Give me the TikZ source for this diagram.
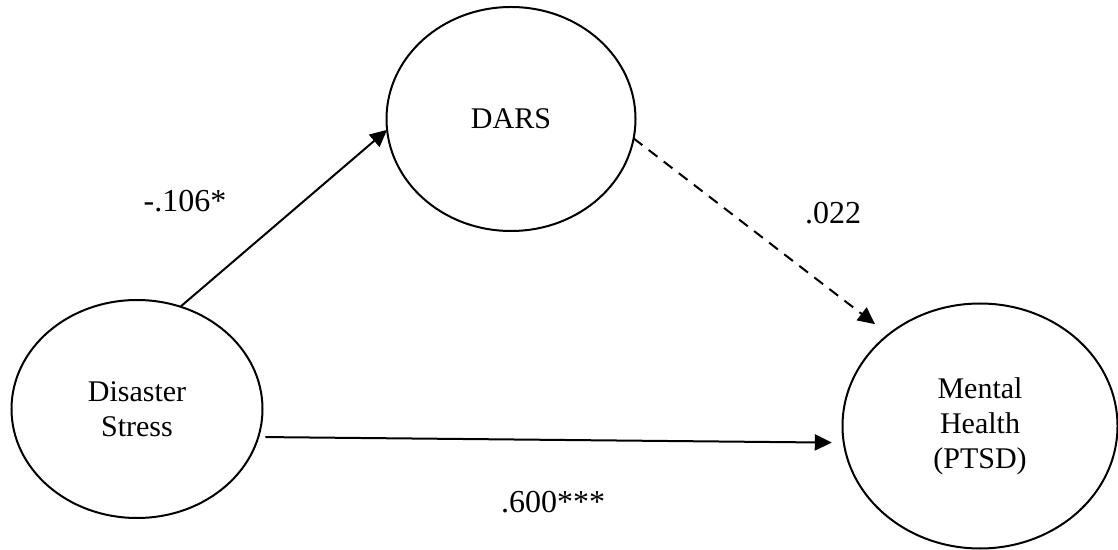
\documentclass[tikz,border=0pt]{standalone}
\usepackage{fontspec}
\setmainfont{Liberation Serif}
\usepackage{tikz}
\usetikzlibrary{positioning,arrows.meta,shapes.geometric}
\definecolor{ink}{HTML}{000000}
\tikzset{latent/.style={draw=ink,ellipse,line width=1pt,inner sep=0pt,outer sep=0pt,
    align=center,font=\fontsize{15}{17.5}\selectfont},
  coef/.style={font=\fontsize{16}{19}\selectfont,text=ink,inner sep=0pt},
  effect/.style={-{Triangle[length=8.5pt,width=8pt]},line width=1pt,draw=ink},
  nseffect/.style={effect,dash pattern=on 5.5pt off 4pt}}

\begin{document}
\begin{tikzpicture}[x=0.5pt,y=-0.5pt]
    \useasboundingbox (0,0) rectangle (1118,550);
    % latent variables
    \node[latent,minimum width=125.5pt,minimum height=109pt] (stress) at (137,409) {Disaster\\Stress};
    \node[latent,minimum width=124.5pt,minimum height=112pt] (dars) at (511,119) {DARS};
    \node[latent,minimum width=137.5pt,minimum height=122.5pt] (ptsd) at (980,426) {Mental\\Health\\(PTSD)};
    % paths
    \draw[effect] (stress.67) -- (dars.185);
    \draw[nseffect,shorten >=8.5pt] (dars.-9.6) -- (ptsd.135.8);
    \draw[effect,shorten <=3.5pt,shorten >=6pt] (stress.-13) -- (ptsd.187);
    % coefficients
    \node[coef] (a) at (185,201) {-.106*};
    \node[coef] (b) at (833,213) {.022};
    \node[coef] (c) at (553,502) {.600***};
  \end{tikzpicture}
\end{document}
